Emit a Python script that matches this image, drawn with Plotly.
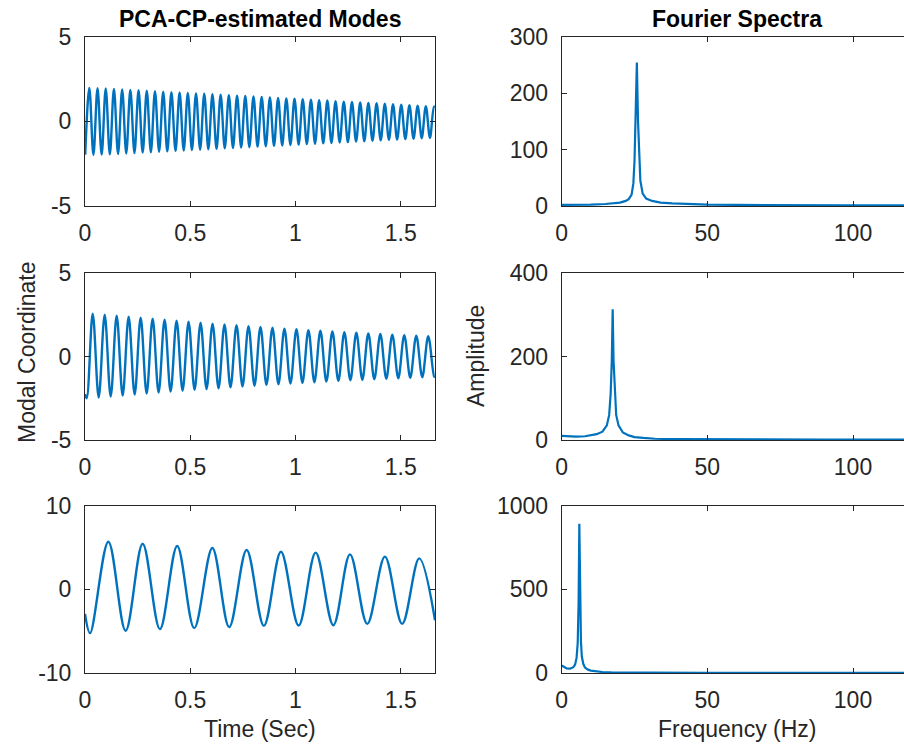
import plotly.graph_objects as go

# ---------------- data ----------------
# Mode 1 (time signal) : extrema times / values
m1_peak_t = [0.0205, 0.0595, 0.0985, 0.1375, 0.1765, 0.2155, 0.2545, 0.2935, 0.3325, 0.3715,
             0.4105, 0.4495, 0.4885, 0.5275, 0.5665, 0.6055, 0.6445, 0.6835, 0.7225, 0.7615,
             0.8005, 0.8395, 0.8785, 0.9175, 0.9565, 0.9955, 1.0345, 1.0735, 1.1125, 1.1515,
             1.1905, 1.2295, 1.2685, 1.3075, 1.3465, 1.3855, 1.4245, 1.4635, 1.5025, 1.5415,
             1.5805, 1.6195, 1.6585]
m1_peak_v = [1.97, 1.95, 1.93, 1.91, 1.88, 1.85, 1.83, 1.80, 1.78, 1.75,
             1.72, 1.70, 1.67, 1.64, 1.62, 1.59, 1.57, 1.54, 1.51, 1.49,
             1.46, 1.43, 1.41, 1.38, 1.35, 1.33, 1.30, 1.27, 1.24, 1.22,
             1.19, 1.16, 1.14, 1.11, 1.08, 1.06, 1.03, 1.00, 0.98, 0.95,
             0.92, 0.89, 0.86]
m1_trough_t = [0.001, 0.040, 0.079, 0.118, 0.157, 0.196, 0.235, 0.274, 0.313, 0.352,
               0.391, 0.430, 0.469, 0.508, 0.547, 0.586, 0.625, 0.664, 0.703, 0.742,
               0.781, 0.820, 0.859, 0.898, 0.937, 0.976, 1.015, 1.054, 1.093, 1.132,
               1.171, 1.210, 1.249, 1.288, 1.327, 1.366, 1.405, 1.444, 1.483, 1.522,
               1.561, 1.600, 1.639]
m1_trough_v = [-1.98, -1.99, -1.97, -1.95, -1.93, -1.90, -1.88, -1.85, -1.83, -1.80,
               -1.78, -1.75, -1.73, -1.70, -1.68, -1.65, -1.63, -1.60, -1.58, -1.55,
               -1.53, -1.50, -1.48, -1.45, -1.43, -1.40, -1.38, -1.35, -1.33, -1.30,
               -1.28, -1.25, -1.23, -1.20, -1.18, -1.15, -1.13, -1.10, -1.08, -1.05,
               -1.03, -1.00, -0.98]
m1_end = (1.663, 0.84)

# Mode 2
m2_start = (0.0, -2.25)
m2_peak_t = [0.0366, 0.0935, 0.1505, 0.2074, 0.2644, 0.3213, 0.3782, 0.4352, 0.4921, 0.5491,
             0.6060, 0.6629, 0.7199, 0.7768, 0.8338, 0.8907, 0.9476, 1.0046, 1.0615, 1.1185,
             1.1754, 1.2323, 1.2893, 1.3462, 1.4032, 1.4601, 1.5170, 1.5740, 1.6309]
m2_peak_v = [2.57, 2.50, 2.44, 2.38, 2.32, 2.26, 2.20, 2.14, 2.08, 2.02,
             1.97, 1.92, 1.87, 1.82, 1.77, 1.72, 1.67, 1.63, 1.58, 1.54,
             1.50, 1.46, 1.42, 1.38, 1.35, 1.31, 1.28, 1.25, 1.22]
m2_trough_t = [0.0081, 0.0650, 0.1220, 0.1789, 0.2359, 0.2928, 0.3497, 0.4067, 0.4636, 0.5206,
               0.5775, 0.6344, 0.6914, 0.7483, 0.8053, 0.8622, 0.9191, 0.9761, 1.0330, 1.0900,
               1.1469, 1.2038, 1.2608, 1.3177, 1.3747, 1.4316, 1.4885, 1.5455, 1.6024, 1.6594]
m2_trough_v = [-2.50, -2.46, -2.40, -2.34, -2.28, -2.22, -2.16, -2.10, -2.05, -2.00,
               -1.95, -1.90, -1.85, -1.80, -1.75, -1.70, -1.66, -1.62, -1.58, -1.54,
               -1.50, -1.46, -1.42, -1.39, -1.36, -1.33, -1.30, -1.27, -1.24, -1.21]
m2_end = (1.663, -1.21)

# Mode 3
m3_start = (0.0, -2.94)
m3_peak_t = [0.111, 0.274, 0.438, 0.605, 0.768, 0.931, 1.096, 1.259, 1.425, 1.588]
m3_peak_v = [5.67, 5.44, 5.16, 4.92, 4.68, 4.48, 4.37, 4.17, 3.89, 3.69]
m3_trough_t = [0.024, 0.193, 0.356, 0.519, 0.685, 0.850, 1.015, 1.180, 1.341, 1.507]
m3_trough_v = [-5.24, -4.96, -4.76, -4.64, -4.52, -4.37, -4.33, -4.29, -4.13, -4.13]
m3_end = (1.663, -3.7)

# Fourier spectra
f1 = [0, 5, 10, 15, 18, 20, 22, 23, 24, 24.6, 25.0, 25.4, 25.8, 26.2, 26.6, 27.0, 27.8, 29,
      31, 34, 38, 45, 50, 60, 70, 85, 100, 117.5]
a1 = [2, 2, 2.5, 3.5, 4.5, 6, 9, 12, 20, 40, 80, 150, 254, 150, 80, 45, 22, 13,
      9, 6, 4.5, 3, 2.5, 2, 1.5, 1.2, 1, 1]
f2 = [0, 2, 5, 8, 10, 12, 14, 15.5, 16.3, 16.8, 17.2, 17.5, 17.8, 18.2, 18.7, 19.5, 21, 23,
      25, 28, 32, 40, 50, 70, 90, 117.5]
a2 = [10, 9, 8, 9, 11, 14, 20, 35, 60, 110, 190, 313, 190, 110, 60, 35, 18, 11,
      7, 5, 3, 2, 1.5, 1, 1, 0.8]
f3 = [0, 0.5, 1, 1.7, 2.9, 4.0, 4.6, 5.1, 5.5, 5.8, 6.05, 6.3, 6.6, 6.9, 7.4, 8, 9, 10,
      12, 14, 17, 20, 30, 50, 80, 117.5]
a3 = [45, 40, 35, 27, 26, 35, 50, 90, 180, 420, 891, 420, 190, 100, 55, 32, 20, 14,
      9, 6, 4, 3, 2, 1.5, 1, 1]

time_ticks = [0, 0.5, 1, 1.5]
time_ticktext = ["0", "0.5", "1", "1.5"]
freq_ticks = [0, 50, 100]
freq_ticktext = ["0", "50", "100"]
y_ticks = [[-5, 0, 5], [-5, 0, 5], [-10, 0, 10]]
y_ticktext = [["-5", "0", "5"], ["-5", "0", "5"], ["-10", "0", "10"]]
amp_ticks = [[0, 100, 200, 300], [0, 200, 400], [0, 500, 1000]]
amp_ticktext = [["0", "100", "200", "300"], ["0", "200", "400"], ["0", "500", "1000"]]
time_ranges = [[-5, 5], [-5, 5], [-10, 10]]
amp_ranges = [[0, 300], [0, 400], [0, 1000]]

# ---------------- figure ----------------
# the page body margin is removed (post_script), so the figure fills the 904x754 window
OFF = 0
W, H = 904, 754
FONT = "Liberation Sans, Arial, Helvetica, sans-serif"
DARK = "#262626"
BLUE = "#0072BD"


def fx(xpx):
    return (xpx - OFF) / W


def fy(ypx):
    return 1 - (ypx - OFF) / H


def wave(start, pk_t, pk_v, tr_t, tr_v, end):
    pts = sorted(list(zip(pk_t, pk_v)) + list(zip(tr_t, tr_v)))
    if start is not None:
        pts = [start] + pts
    pts = pts + [end]
    return [p[0] for p in pts], [p[1] for p in pts]


waves = [
    wave(None, m1_peak_t, m1_peak_v, m1_trough_t, m1_trough_v, m1_end),
    wave(m2_start, m2_peak_t, m2_peak_v, m2_trough_t, m2_trough_v, m2_end),
    wave(m3_start, m3_peak_t, m3_peak_v, m3_trough_t, m3_trough_v, m3_end),
]
spectra = [(f1, a1), (f2, a2), (f3, a3)]

row_px = [(36.5, 206), (273, 440), (505.5, 673)]
left_px = (85, 435)
right_px = (561.7, 904)
freq_max = (904 - 561.7) / 2.913

fig = go.Figure()
layout = dict(
    width=W, height=H,
    margin=dict(l=0, r=0, t=0, b=0, autoexpand=False),
    paper_bgcolor="white", plot_bgcolor="white",
    showlegend=False,
    font=dict(family=FONT, size=23, color=DARK),
)

axis_common = dict(
    showline=True, linecolor=DARK, linewidth=1,
    ticks="inside", ticklen=5, tickwidth=1, tickcolor=DARK,
    showgrid=False, zeroline=False, automargin=False,
    tickfont=dict(family=FONT, size=23, color=DARK),
)

for r in range(3):
    ytop, ybot = row_px[r]
    ydom = [fy(ybot), fy(ytop)]
    il = 2 * r + 1
    ir = 2 * r + 2
    xl = "x" if il == 1 else f"x{il}"
    yl = "y" if il == 1 else f"y{il}"
    xr = f"x{ir}"
    yr = f"y{ir}"

    t, v = waves[r]
    fig.add_trace(go.Scatter(x=t, y=v, mode="lines", xaxis=xl, yaxis=yl,
                             line=dict(color=BLUE, width=2.4, shape="spline", smoothing=1.0),
                             hoverinfo="skip"))
    f, a = spectra[r]
    fig.add_trace(go.Scatter(x=f, y=a, mode="lines", xaxis=xr, yaxis=yr,
                             line=dict(color=BLUE, width=2.2), hoverinfo="skip"))

    layout["xaxis" if il == 1 else f"xaxis{il}"] = dict(
        axis_common, domain=[fx(left_px[0]), fx(left_px[1])], anchor=yl,
        range=[0, 1.663], tickvals=time_ticks, ticktext=time_ticktext,
        mirror="ticks", ticklabelstandoff=6)
    layout["yaxis" if il == 1 else f"yaxis{il}"] = dict(
        axis_common, domain=ydom, anchor=xl,
        range=time_ranges[r], tickvals=y_ticks[r], ticktext=y_ticktext[r],
        mirror="ticks", ticklabelstandoff=8)
    layout[f"xaxis{ir}"] = dict(
        axis_common, domain=[fx(right_px[0]), 1.0], anchor=yr,
        range=[0, freq_max], tickvals=freq_ticks, ticktext=freq_ticktext,
        mirror="ticks", ticklabelstandoff=6)
    layout[f"yaxis{ir}"] = dict(
        axis_common, domain=ydom, anchor=xr,
        range=amp_ranges[r], tickvals=amp_ticks[r], ticktext=amp_ticktext[r],
        mirror=False, ticklabelstandoff=8)


def ann(text, xpx, ypx, size=23, bold=False, angle=0):
    return dict(text=f"<b>{text}</b>" if bold else text,
                x=fx(xpx), y=fy(ypx), xref="paper", yref="paper",
                xanchor="center", yanchor="middle", showarrow=False, textangle=angle,
                font=dict(family=FONT, size=size, color="black" if bold else DARK))


layout["annotations"] = [
    ann("PCA-CP-estimated Modes", 260, 19.5, bold=True),
    ann("Fourier Spectra", 737, 19.5, bold=True),
    ann("Modal Coordinate", 27, 352, angle=-90),
    ann("Amplitude", 476, 356, angle=-90),
    ann("Time (Sec)", 260, 729),
    ann("Frequency (Hz)", 737, 729),
]

fig.update_layout(**layout)
fig.write_html("out.html",
               config={"displayModeBar": False, "staticPlot": True},
               post_script="document.body.style.margin='0px';"
                           "document.body.style.overflow='hidden';")
